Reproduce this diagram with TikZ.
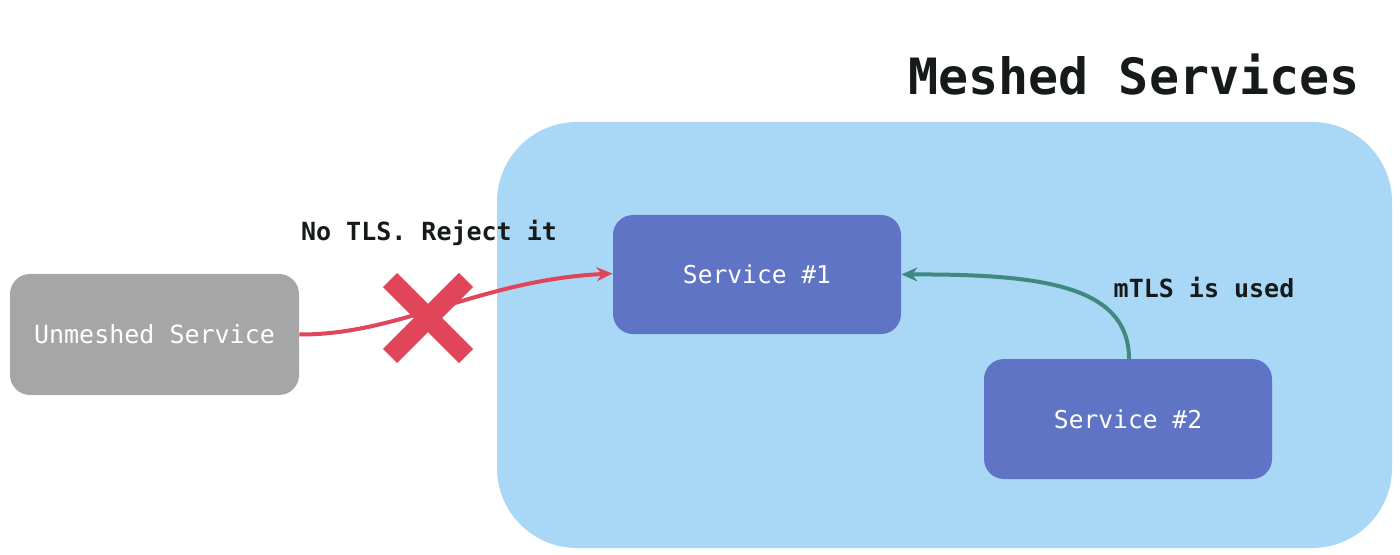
\documentclass[tikz,border=0pt]{standalone}
\usepackage{fontspec}
\setmonofont{DejaVu Sans Mono}
\usetikzlibrary{arrows.meta}
\definecolor{meshblue}{HTML}{A9D7F6}
\definecolor{svcblue}{HTML}{6074C5}
\definecolor{unmgray}{HTML}{A6A6A6}
\definecolor{rejred}{HTML}{E0455A}
\definecolor{mtlsteal}{HTML}{3F8A80}
\definecolor{txtdark}{HTML}{161A1A}
\tikzset{
  svcbox/.style={fill=svcblue, rounded corners=10pt, text=white, font=\ttfamily\fontsize{12.3}{14}\selectfont},
  unmbox/.style={fill=unmgray, rounded corners=10pt, text=white, font=\ttfamily\fontsize{12.5}{14}\selectfont},
  lbl/.style={text=txtdark, font=\ttfamily\bfseries\fontsize{12.5}{14}\selectfont},
}
\begin{document}
\begin{tikzpicture}[x=0.5pt,y=-0.5pt]
\useasboundingbox (0,0) rectangle (1400,555);
% mesh area
\path[fill=meshblue, rounded corners=40pt] (497,122) rectangle (1392,548);
\node[text=txtdark, font=\ttfamily\bfseries\fontsize{25}{30}\selectfont] (title) at (1134,75) {Meshed Services};
% boxes
\path[unmbox] (10,274) rectangle (299,395);
\node[unmbox, fill=none, inner sep=0pt, minimum width=144.5pt, minimum height=60.5pt] (unm) at (154.5,334.5) {Unmeshed Service};
\path[svcbox] (613,215) rectangle (901,334);
\node[svcbox, fill=none, inner sep=0pt, minimum width=144pt, minimum height=59.5pt] (s1) at (757,274.5) {Service \#1};
\path[svcbox] (984,359) rectangle (1272,479);
\node[svcbox, fill=none, inner sep=0pt, minimum width=144pt, minimum height=60pt] (s2) at (1128,419) {Service \#2};
% labels
\node[lbl] (rej) at (429,233) {No TLS. Reject it};
\node[lbl] (mtls) at (1204,288) {mTLS is used};
% red arrow
\coordinate (ra) at (unm.east);
\coordinate (rb) at ([yshift=0.5pt]s1.west);
\draw[rejred, line width=2pt, -{Stealth[length=8pt,width=7pt]}] (ra) .. controls (400,335) and (480,280) .. (rb);
% red X
\coordinate (xc) at (428,318);
\draw[rejred, line width=10pt] ([shift={(-38,-38)}]xc) -- ([shift={(38,38)}]xc);
\draw[rejred, line width=10pt] ([shift={(-38,38)}]xc) -- ([shift={(38,-38)}]xc);
% teal arrow
\coordinate (ta) at (1129,359);
\draw[mtlsteal, line width=2pt, -{Stealth[length=8pt,width=7pt]}] (ta) .. controls (1129,285) and (1040,274) .. (s1.east);
\end{tikzpicture}
\end{document}
